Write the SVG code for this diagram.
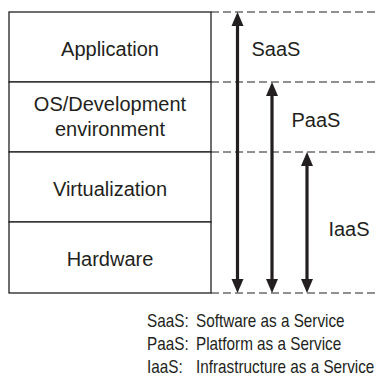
<svg xmlns="http://www.w3.org/2000/svg" width="377" height="378" viewBox="0 0 377 378">
<style>
  text { font-family: "Liberation Sans", Arial, sans-serif; fill: #231f20; }
  .lbl { font-size: 20px; text-anchor: middle; }
  .leg { font-size: 18px; }
  .box { fill: #fff; stroke: #231f20; stroke-width: 1.3; }
  .dash { stroke: #231f20; stroke-width: 1; stroke-dasharray: 8 4; fill: none; }
  .shaft { stroke: #231f20; stroke-width: 3.2; }
  .head { fill: #231f20; }
</style>
<rect width="377" height="378" fill="#fff"/>
<g id="connectors">
  <line class="dash" x1="211" y1="12" x2="377" y2="12"/>
  <line class="dash" x1="211" y1="82" x2="377" y2="82"/>
  <line class="dash" x1="211" y1="152" x2="377" y2="152"/>
  <line class="dash" x1="211" y1="293" x2="377" y2="293"/>
  <g id="saas-arrow">
    <line class="shaft" x1="237.5" y1="24" x2="237.5" y2="281"/>
    <polygon class="head" points="237.5,12 231.5,26 243.5,26"/>
    <polygon class="head" points="237.5,293 231.5,279 243.5,279"/>
  </g>
  <g id="paas-arrow">
    <line class="shaft" x1="272" y1="94" x2="272" y2="281"/>
    <polygon class="head" points="272,82 266,96 278,96"/>
    <polygon class="head" points="272,293 266,279 278,279"/>
  </g>
  <g id="iaas-arrow">
    <line class="shaft" x1="307" y1="164" x2="307" y2="281"/>
    <polygon class="head" points="307,152 301,166 313,166"/>
    <polygon class="head" points="307,293 301,279 313,279"/>
  </g>
</g>
<g id="application">
  <rect class="box" x="9" y="12" width="202" height="70"/>
  <text class="lbl" x="110" y="56">Application</text>
</g>
<g id="os">
  <rect class="box" x="9" y="82" width="202" height="70"/>
  <text class="lbl" x="110" y="111">OS/Development</text>
  <text class="lbl" x="110" y="136">environment</text>
</g>
<g id="virtualization">
  <rect class="box" x="9" y="152" width="202" height="70"/>
  <text class="lbl" x="110" y="196">Virtualization</text>
</g>
<g id="hardware">
  <rect class="box" x="9" y="222" width="202" height="71"/>
  <text class="lbl" x="110" y="266">Hardware</text>
</g>
<g id="saas-label"><text class="lbl" x="276" y="56">SaaS</text></g>
<g id="paas-label"><text class="lbl" x="316" y="127">PaaS</text></g>
<g id="iaas-label"><text class="lbl" x="349" y="236">IaaS</text></g>
<g id="legend" transform="translate(147,0) scale(0.85,1)">
  <text class="leg" x="0" y="327">SaaS:</text>
  <text class="leg" x="57.6" y="327">Software as a Service</text>
  <text class="leg" x="0" y="350">PaaS:</text>
  <text class="leg" x="57.6" y="350">Platform as a Service</text>
  <text class="leg" x="0" y="373">IaaS:</text>
  <text class="leg" x="57.6" y="373">Infrastructure as a Service</text>
</g>
</svg>
